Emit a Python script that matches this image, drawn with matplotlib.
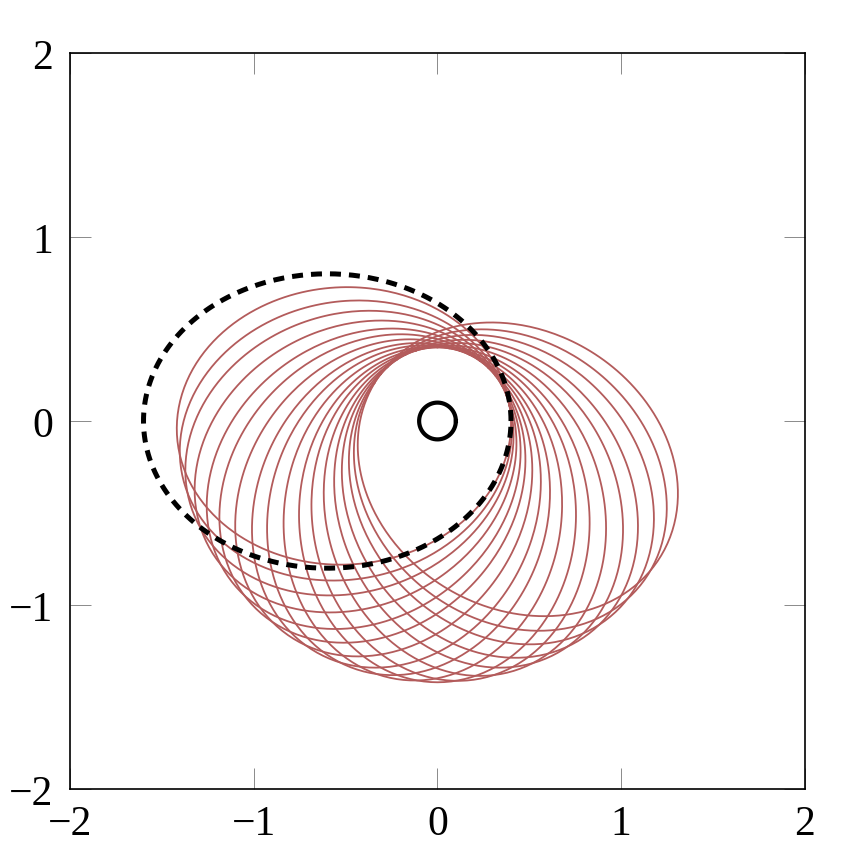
import numpy as np
import matplotlib
matplotlib.use("Agg")
import matplotlib.pyplot as plt

# ---- data ----
# precessing orbit loops: periapsis direction (deg), periapsis / apoapsis distance
peri_angles_deg = [3, 12, 20, 29, 38, 46, 55, 64, 72, 81, 90, 98, 107, 116, 124, 133, 141, 149]
peri_dist = [0.40] * len(peri_angles_deg)
apo_dist = [1.42] * len(peri_angles_deg)

# unperturbed reference orbit (dashed): centre, semi-axes
ref_center = (-0.6, 0.0)
ref_axes = (1.0, 0.8)

# central body
body_center = (0.0, 0.0)
body_radius = 0.1

ticks = [-2, -1, 0, 1, 2]

plt.rcParams['font.family'] = ['Liberation Serif', 'DejaVu Serif']

fig = plt.figure(figsize=(8.65, 8.62), dpi=100)
ax = fig.add_axes([70/865, 1-790/862, (805-70)/865, (790-54)/862])

red = '#b35b5b'
nu = np.linspace(0, 2*np.pi, 241)
for w, q, Q in zip(peri_angles_deg, peri_dist, apo_dist):
    a = (q + Q) / 2
    e = (Q - q) / (Q + q)
    p = a * (1 - e**2)
    r = p / (1 + e*np.cos(nu))
    th = nu + np.deg2rad(w)
    ax.plot(r*np.cos(th), r*np.sin(th), color=red, lw=1.3, zorder=2)

t = np.linspace(0, 2*np.pi, 400)
ax.plot(ref_center[0] + ref_axes[0]*np.cos(t), ref_center[1] + ref_axes[1]*np.sin(t),
        color='black', lw=3.6, ls=(0, (2.2, 1.6)), zorder=3)

ax.plot(body_center[0] + body_radius*np.cos(t), body_center[1] + body_radius*np.sin(t),
        color='black', lw=3.0, zorder=4)

ax.set_xlim(-2, 2)
ax.set_ylim(-2, 2)
ax.set_xticks(ticks)
ax.set_yticks(ticks)
ax.set_xticklabels([f'{v}'.replace('-', '\u2212') for v in ticks])
ax.set_yticklabels([f'{v}'.replace('-', '\u2212') for v in ticks])
ax.tick_params(direction='in', length=15, width=0.6, color='#777777',
               top=True, right=True, labelsize=30)
ax.tick_params(axis='x', pad=11)
ax.tick_params(axis='y', pad=12)
for s in ax.spines.values():
    s.set_linewidth(1.2)

fig.savefig('out.png', dpi=100)
